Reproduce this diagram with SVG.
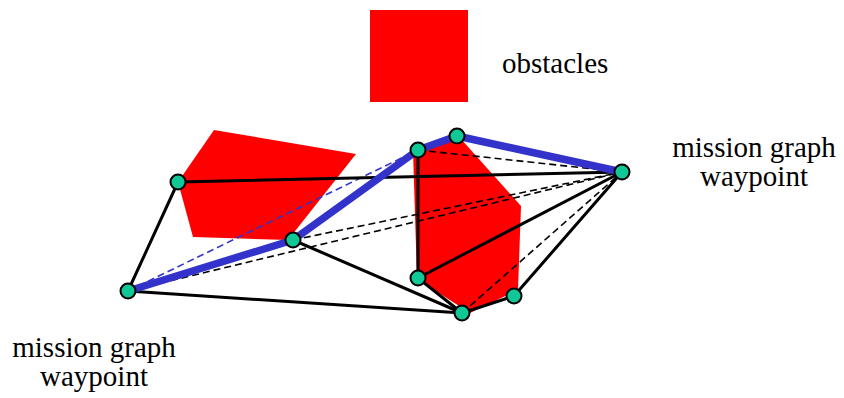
<svg xmlns="http://www.w3.org/2000/svg" width="844" height="398" viewBox="0 0 844 398">
<style>
.obs{fill:#ff0000}
.solid{stroke:#000;stroke-width:3;fill:none;stroke-linecap:round}
.dash{stroke:#000;stroke-width:1.6;fill:none;stroke-dasharray:7 4}
.bdash{stroke:#3333cc;stroke-width:1.6;fill:none;stroke-dasharray:7 4}
.route{stroke:#3333cc;stroke-width:7.5;fill:none;stroke-linejoin:round;stroke-linecap:round}
.wp{fill:#10c896;stroke:#000;stroke-width:2}
text{font-family:"Liberation Serif","Times New Roman",serif;font-size:29px;fill:#000}
</style>
<g id="obstacle-legend">
<rect class="obs" x="370" y="10" width="98" height="92"/>
<text x="502" y="73">obstacles</text>
</g>
<g id="obstacle-1"><polygon class="obs" points="214,130 356,154 288,240 193,237 178,182"/></g>
<g id="obstacle-2"><polygon class="obs" points="413,150 461,139 521,206 518,290 470,313 417,279"/></g>
<g id="connectors">
<line class="dash" x1="128" y1="291" x2="622" y2="172"/>
<line class="dash" x1="293" y1="240" x2="622" y2="172"/>
<line class="dash" x1="418" y1="150" x2="622" y2="172"/>
<line class="dash" x1="462" y1="313" x2="622" y2="172"/>
<line class="bdash" x1="128" y1="291" x2="418" y2="150"/>
<line class="solid" x1="128" y1="291" x2="178" y2="182"/>
<line class="solid" x1="178" y1="182" x2="622" y2="172"/>
<line class="solid" x1="128" y1="291" x2="462" y2="313"/>
<line class="solid" x1="293" y1="240" x2="462" y2="313"/>
<line class="solid" x1="418" y1="150" x2="418" y2="278"/>
<line class="solid" x1="418" y1="278" x2="462" y2="313"/>
<line class="solid" x1="418" y1="278" x2="622" y2="172"/>
<line class="solid" x1="462" y1="313" x2="514" y2="296"/>
<line class="solid" x1="514" y1="296" x2="622" y2="172"/>
<polyline class="route" points="128,291 293,240 418,150 457,136 622,172"/>
</g>
<g id="wp-A"><circle class="wp" cx="128" cy="291" r="7.5"/></g>
<g id="wp-B"><circle class="wp" cx="178" cy="182" r="7.5"/></g>
<g id="wp-C"><circle class="wp" cx="293" cy="240" r="7.5"/></g>
<g id="wp-D"><circle class="wp" cx="418" cy="150" r="7.5"/></g>
<g id="wp-E"><circle class="wp" cx="457" cy="136" r="7.5"/></g>
<g id="wp-F"><circle class="wp" cx="622" cy="172" r="7.5"/></g>
<g id="wp-G"><circle class="wp" cx="418" cy="278" r="7.5"/></g>
<g id="wp-H"><circle class="wp" cx="462" cy="313" r="7.5"/></g>
<g id="wp-I"><circle class="wp" cx="514" cy="296" r="7.5"/></g>
<g id="label-left">
<text x="94" y="357" text-anchor="middle">mission graph</text>
<text x="94" y="386" text-anchor="middle">waypoint</text>
</g>
<g id="label-right">
<text x="754" y="157" text-anchor="middle">mission graph</text>
<text x="754" y="186" text-anchor="middle">waypoint</text>
</g>
</svg>
